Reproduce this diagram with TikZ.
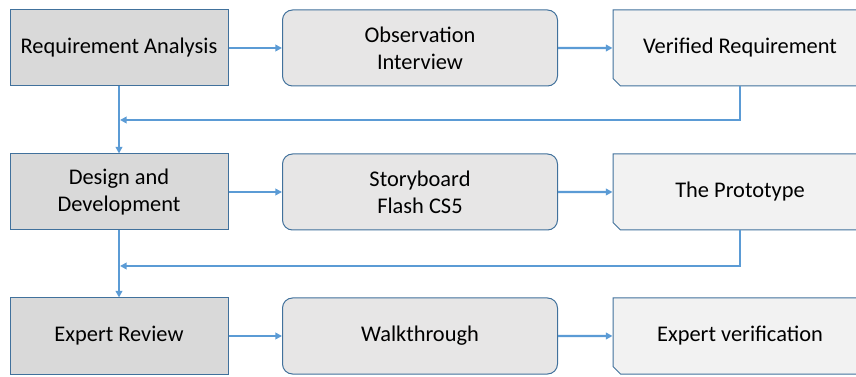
\documentclass[tikz,border=0pt]{standalone}
\usepackage{fontspec}
\setmainfont{Carlito}
\usetikzlibrary{arrows.meta,shapes.misc}

\definecolor{boxline}{RGB}{65,113,156}
\definecolor{flowline}{RGB}{91,155,213}
\tikzset{every picture/.style={line width=0.75pt}}
\tikzset{
  stagebox/.style={draw=boxline, fill={rgb,255:red,217;green,217;blue,217}, minimum width=163.5pt, minimum height=57pt, inner sep=0pt, align=center, font=\fontsize{16.8}{20.5}\selectfont},
  methodbox/.style={draw=boxline, fill={rgb,255:red,231;green,230;blue,230}, rounded corners=7.5pt, minimum width=206.25pt, minimum height=57pt, inner sep=0pt, align=center, font=\fontsize{16.8}{20.5}\selectfont},
  resultbox/.style={draw=boxline, fill={rgb,255:red,242;green,242;blue,242}, chamfered rectangle, chamfered rectangle corners=south west, chamfered rectangle xsep=2.8pt, chamfered rectangle ysep=2.8pt, minimum width=190.5pt, minimum height=57pt, inner sep=0pt, align=center, font=\fontsize{16.8}{20.5}\selectfont},
  flow/.style={draw=flowline, line width=1.75pt, -{Triangle[length=5pt,width=5pt]}}
}

\begin{document}
\begin{tikzpicture}[x=0.75pt,y=0.75pt,yscale=-1,xscale=1]
\clip (0,0) rectangle (856,377); %picture is 856 x 377

%Row 1
\node [stagebox] (ra) at (119,48) {Requirement Analysis};
\node [methodbox] (oi) at (420,48) {Observation\\Interview};
\node [resultbox] (vr) at (740,48) {Verified Requirement};
%Row 2
\node [stagebox] (dd) at (119,192) {Design and\\Development};
\node [methodbox] (sf) at (420,192) {Storyboard\\Flash CS5};
\node [resultbox] (tp) at (740,192) {The Prototype};
%Row 3
\node [stagebox] (er) at (119,336) {Expert Review};
\node [methodbox] (wt) at (420,336) {Walkthrough};
\node [resultbox] (ev) at (740,336) {Expert verification};

%Joins on the left line
\coordinate (j1) at (120,120);
\coordinate (j2) at (120,266);

%Arrows
\draw [flow] (ra) -- (oi);
\draw [flow] (oi) -- (vr);
\draw [flow] (dd) -- (sf);
\draw [flow] (sf) -- (tp);
\draw [flow] (er) -- (wt);
\draw [flow] (wt) -- (ev);
\draw [flow] (ra) -- (dd);
\draw [flow] (dd) -- (er);
\draw [flow] (vr.south) |- (j1);
\draw [flow] (tp.south) |- (j2);

\end{tikzpicture}
\end{document}
